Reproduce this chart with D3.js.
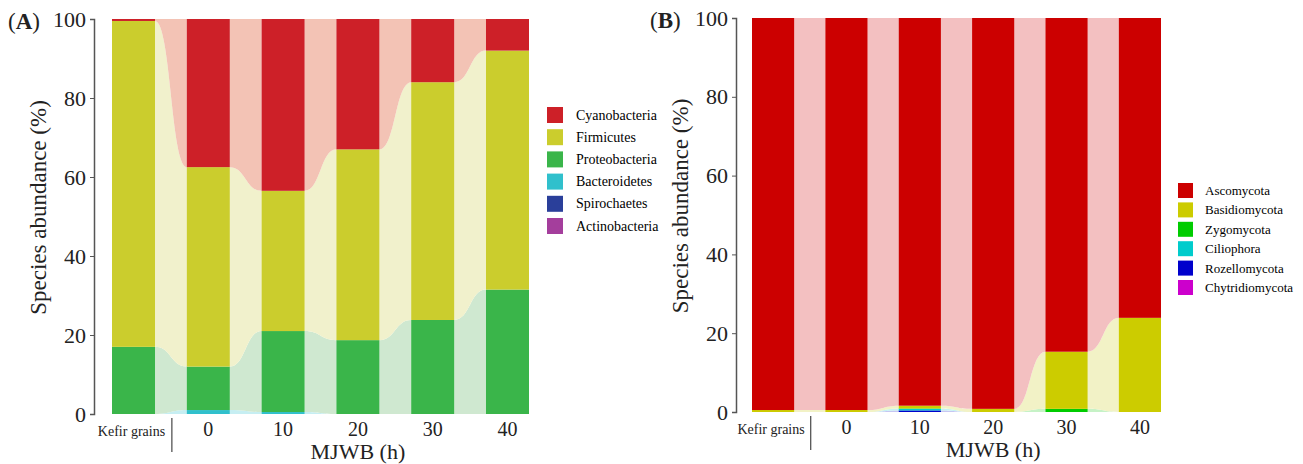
<!DOCTYPE html>
<html>
<head>
<meta charset="utf-8">
<script src="https://cdn.jsdelivr.net/npm/d3@7/dist/d3.min.js"></script>
<style>
  body { margin: 0; background: #fff; }
</style>
</head>
<body>
<svg id="chart" width="1303" height="464"></svg>
<script>
"use strict";

// shared categories
var timepoints = ["Kefir grains", "0", "10", "20", "30", "40"];
var yTicks = [0, 20, 40, 60, 80, 100];

// panel A (bacteria), legend order top -> bottom
var bacteriaNames = ["Cyanobacteria", "Firmicutes", "Proteobacteria", "Bacteroidetes", "Spirochaetes", "Actinobacteria"];
var cyanobacteria  = [0.5, 37.5, 43.5, 33.0, 16.0, 8.0];
var firmicutes     = [82.5, 50.5, 35.5, 48.3, 60.2, 60.5];
var proteobacteria = [17.0, 11.0, 20.5, 18.7, 23.8, 31.5];
var bacteroidetes  = [0.0, 1.0, 0.5, 0.0, 0.0, 0.0];
var spirochaetes   = [0, 0, 0, 0, 0, 0];
var actinobacteria = [0, 0, 0, 0, 0, 0];

// panel B (fungi)
var fungiNames = ["Ascomycota", "Basidiomycota", "Zygomycota", "Ciliophora", "Rozellomycota", "Chytridiomycota"];
var ascomycota      = [99.5, 99.5, 98.4, 99.2, 84.7, 76.1];
var basidiomycota   = [0.5, 0.5, 0.7, 0.8, 14.5, 23.9];
var zygomycota      = [0.0, 0.0, 0.1, 0.0, 0.8, 0.0];
var ciliophora      = [0.0, 0.0, 0.4, 0.0, 0.0, 0.0];
var rozellomycota   = [0.0, 0.0, 0.4, 0.0, 0.0, 0.0];
var chytridiomycota = [0, 0, 0, 0, 0, 0];

var bacteriaColors = ["#cd2028", "#cbcd2d", "#3ab54a", "#30c0cc", "#2a3f9a", "#a43e9c"];
var bacteriaLight  = ["#f3c3b5", "#f1f1cc", "#cfe8d0", "#c6eef2", "#c4cbe8", "#ebc8e8"];
var fungiColors = ["#cc0000", "#cccc00", "#00cc00", "#00cccc", "#0000cc", "#cc00cc"];
var fungiLight  = ["#f3c0c1", "#f2f2c6", "#c6f2c6", "#c6f2f2", "#c6c6f2", "#f2c6f2"];

var serif = "Liberation Serif";
var svg = d3.select("#chart");

function drawPanel(p) {
	var g = svg.append("g").attr("font-family", serif);
	var rows = timepoints.map(function(t, i) {
		var r = {t: t};
		p.names.forEach(function(n, k) { r[n] = p.values[k][i]; });
		return r;
	});
	// stack bottom -> top is reverse of legend order
	var keys = p.names.slice().reverse();
	var series = d3.stack().keys(keys)(rows);

	var x = d3.scaleBand().domain(timepoints).range(p.xRange).paddingInner(0.425).paddingOuter(0);
	var y = d3.scaleLinear().domain([0, 100]).range(p.yRange);
	var bw = x.bandwidth();

	function colorOf(key, light) {
		var k = p.names.indexOf(key);
		return light ? p.light[k] : p.colors[k];
	}

	// flows between bars
	series.forEach(function(s) {
		for (var i = 0; i < timepoints.length - 1; i++) {
			var a = s[i], b = s[i + 1];
			if (a[1] - a[0] <= 0 && b[1] - b[0] <= 0) continue;
			var x1 = x(timepoints[i]) + bw, x2 = x(timepoints[i + 1]), xm = (x1 + x2) / 2;
			var d = "M" + x1 + "," + y(a[1]) +
				"C" + xm + "," + y(a[1]) + " " + xm + "," + y(b[1]) + " " + x2 + "," + y(b[1]) +
				"L" + x2 + "," + y(b[0]) +
				"C" + xm + "," + y(b[0]) + " " + xm + "," + y(a[0]) + " " + x1 + "," + y(a[0]) + "Z";
			g.append("path").attr("d", d).attr("fill", colorOf(s.key, true));
		}
	});

	// bars
	series.forEach(function(s) {
		g.selectAll(null).data(s).enter().append("rect")
			.attr("x", function(d) { return x(d.data.t); })
			.attr("width", bw)
			.attr("y", function(d) { return y(d[1]); })
			.attr("height", function(d) { return y(d[0]) - y(d[1]); })
			.attr("fill", colorOf(s.key, false));
	});

	// y axis
	var ax = g.append("g")
		.attr("transform", "translate(" + p.axisX + ",0)")
		.call(d3.axisLeft(y).tickValues(yTicks).tickSize(4).tickPadding(4));
	ax.attr("font-family", serif);
	ax.select(".domain").attr("stroke", "#555").attr("stroke-width", 1.5);
	ax.selectAll(".tick line").attr("stroke", "#555");
	ax.selectAll(".tick text").attr("font-size", 22).attr("fill", "#222");

	// panel letter
	var lt = g.append("text").attr("x", p.axisX - 86).attr("y", p.yRange[1] + 10)
		.attr("font-size", 23).attr("fill", "#222");
	lt.append("tspan").text("(");
	lt.append("tspan").attr("font-weight", "bold").text(p.letter);
	lt.append("tspan").text(")");

	// y title
	g.append("text")
		.attr("transform", "translate(" + (p.axisX - 48) + "," + ((p.yRange[0] + p.yRange[1]) / 2 - 9) + ") rotate(-90)")
		.attr("text-anchor", "middle").attr("font-size", 23).attr("fill", "#222")
		.text("Species abundance (%)");

	// x labels
	timepoints.forEach(function(t, i) {
		var cx = x(t) + bw / 2;
		if (i === 0) {
			g.append("text").attr("x", cx - 2).attr("y", p.yRange[0] + 22)
				.attr("text-anchor", "middle").attr("font-size", 14).attr("fill", "#222").text(t);
		} else {
			g.append("text").attr("x", cx).attr("y", p.yRange[0] + 22)
				.attr("text-anchor", "middle").attr("font-size", 20).attr("fill", "#222").text(t);
		}
	});
	var sepX = (x(timepoints[0]) + bw + x(timepoints[1])) / 2 + 1;
	g.append("line").attr("x1", sepX).attr("x2", sepX)
		.attr("y1", p.yRange[0] + 4).attr("y2", p.yRange[0] + 38)
		.attr("stroke", "#222").attr("stroke-width", 1);
	g.append("text").attr("x", (x(timepoints[1]) + x(timepoints[5]) + bw) / 2).attr("y", p.yRange[0] + 45)
		.attr("text-anchor", "middle").attr("font-size", 22).attr("fill", "#222").text("MJWB (h)");

	// legend
	var lg = g.append("g").attr("transform", "translate(" + p.legend.x + "," + p.legend.y + ")");
	p.names.forEach(function(n, k) {
		lg.append("rect").attr("x", 0).attr("y", k * p.legend.step)
			.attr("width", p.legend.size).attr("height", p.legend.size).attr("fill", p.colors[k]);
		lg.append("text").attr("x", p.legend.size + p.legend.gap).attr("y", k * p.legend.step + p.legend.size / 2 + 4.5)
			.attr("font-size", p.legend.font).attr("fill", "#000").text(n);
	});
}

drawPanel({
	letter: "A",
	names: bacteriaNames,
	values: [cyanobacteria, firmicutes, proteobacteria, bacteroidetes, spirochaetes, actinobacteria],
	colors: bacteriaColors, light: bacteriaLight,
	xRange: [112, 529], yRange: [414, 19], axisX: 94,
	legend: {x: 547, y: 107, step: 22.2, size: 16, gap: 13, font: 14}
});

drawPanel({
	letter: "B",
	names: fungiNames,
	values: [ascomycota, basidiomycota, zygomycota, ciliophora, rozellomycota, chytridiomycota],
	colors: fungiColors, light: fungiLight,
	xRange: [752, 1161], yRange: [412, 18], axisX: 736,
	legend: {x: 1178, y: 183, step: 19.4, size: 15, gap: 12, font: 13}
});
</script>
</body>
</html>
